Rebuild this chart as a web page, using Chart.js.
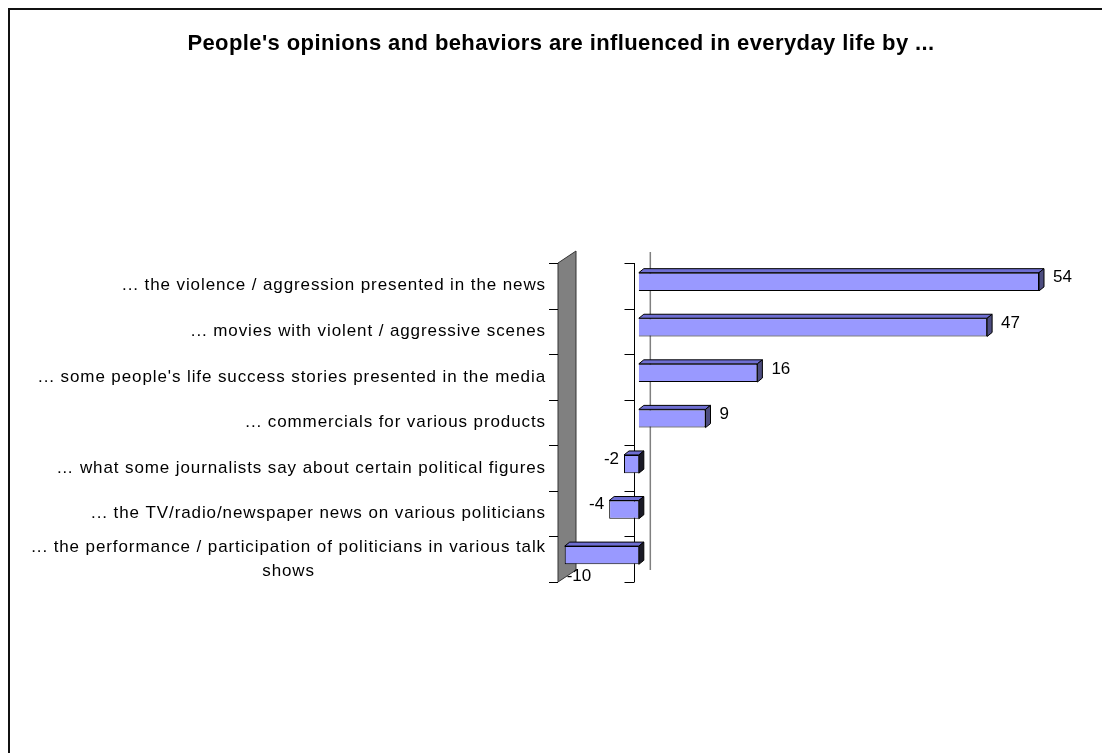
<!DOCTYPE html>
<html><head><meta charset="utf-8">
<script src="https://cdn.jsdelivr.net/npm/chart.js@4.4.0/dist/chart.umd.min.js"></script>
<style>html,body{margin:0;padding:0;background:#fff;overflow:hidden} #wrap{width:1102px;height:753px;position:relative}</style>
</head><body><div id="wrap"><canvas id="c" width="1102" height="753"></canvas></div>
<script>
const TITLE = "People's opinions and behaviors are influenced in everyday life by ...";
const categories = [
  ["... the violence / aggression presented in the news"],
  ["... movies with violent / aggressive scenes"],
  ["... some people's life success stories presented in the media"],
  ["... commercials for various products"],
  ["\u2026 what some journalists say about certain political figures"],
  ["... the TV/radio/newspaper news on various politicians"],
  ["... the performance / participation of politicians in various talk", "shows"]
];
const values = [54, 47, 16, 9, -2, -4, -10];
const axisMin = -10.5, axisMax = 54;

const FONT = "'Liberation Sans', Arial, sans-serif";
const D = {dx: 5, dy: -4};          // bar depth
const FRONT = {dx: -4, dy: 4};      // front axis plane offset from bar plane
const BACK = {dx: 11, dy: -8};      // back wall offset from bar plane

function spaced(ctx, px) { if ('letterSpacing' in ctx) ctx.letterSpacing = px + 'px'; }

const deco = {
  id: 'deco',
  beforeDatasetsDraw(chart) {
    const ctx = chart.ctx, xs = chart.scales.x, ca = chart.chartArea;
    ctx.save();
    // side wall at axis minimum
    const wx = xs.getPixelForValue(axisMin);
    const fT = ca.top + FRONT.dy, fB = ca.bottom + FRONT.dy;
    ctx.beginPath();
    ctx.moveTo(wx - 3, fT);
    ctx.lineTo(wx + 15, fT - 12);
    ctx.lineTo(wx + 15, fB - 12);
    ctx.lineTo(wx - 3, fB);
    ctx.closePath();
    ctx.fillStyle = '#808080';
    ctx.fill();
    ctx.strokeStyle = '#333';
    ctx.lineWidth = 1;
    ctx.stroke();
    // back zero line
    const x0 = xs.getPixelForValue(0);
    ctx.beginPath();
    ctx.strokeStyle = '#808080';
    ctx.lineWidth = 1.5;
    ctx.moveTo(x0 + BACK.dx + 0.5, ca.top + BACK.dy + 1);
    ctx.lineTo(x0 + BACK.dx + 0.5, ca.bottom + BACK.dy);
    ctx.stroke();
    // category axis at zero (front plane) and ticks
    const ax = Math.round(x0 + FRONT.dx) - 0.5;
    ctx.beginPath();
    ctx.strokeStyle = '#000';
    ctx.lineWidth = 1;
    ctx.moveTo(ax, fT);
    ctx.lineTo(ax, fB);
    const n = categories.length;
    for (let i = 0; i <= n; i++) {
      const y = Math.round(fT + (fB - fT) * i / n) + 0.5;
      ctx.moveTo(ax - 10, y); ctx.lineTo(ax, y);
      ctx.moveTo(wx - 12, y); ctx.lineTo(wx - 3, y);
    }
    ctx.stroke();
    ctx.restore();
  },
  afterDatasetsDraw(chart) {
    const ctx = chart.ctx, xs = chart.scales.x, ys = chart.scales.y;
    const meta = chart.getDatasetMeta(0);
    ctx.save();
    meta.data.forEach((el, i) => {
      const L = Math.min(el.x, el.base), R = Math.max(el.x, el.base);
      const T = el.y - el.height / 2, B = el.y + el.height / 2;
      ctx.lineWidth = 1;
      ctx.strokeStyle = '#000';
      // top face
      ctx.beginPath();
      ctx.moveTo(L, T); ctx.lineTo(L + D.dx, T + D.dy); ctx.lineTo(R + D.dx, T + D.dy); ctx.lineTo(R, T); ctx.closePath();
      ctx.fillStyle = '#6e6ed2'; ctx.fill(); ctx.stroke();
      // side face
      ctx.beginPath();
      ctx.moveTo(R, T); ctx.lineTo(R + D.dx, T + D.dy); ctx.lineTo(R + D.dx, B + D.dy); ctx.lineTo(R, B); ctx.closePath();
      ctx.fillStyle = values[i] >= 0 ? '#4d4d80' : '#1a1a26'; ctx.fill(); ctx.stroke();
      // value label
      ctx.fillStyle = '#000';
      ctx.font = '17px ' + FONT;
      spaced(ctx, 0);
      ctx.textBaseline = 'middle';
      const txt = String(values[i]);
      if (values[i] >= 0) {
        ctx.textAlign = 'left';
        ctx.fillText(txt, R + 14, el.y - 4);
      } else {
        const w = ctx.measureText(txt).width;
        const wx = xs.getPixelForValue(axisMin);
        if (L - 5 - w < wx) {
          ctx.textAlign = 'left';
          ctx.fillText(txt, L + 2, B + 12);
        } else {
          ctx.textAlign = 'right';
          ctx.fillText(txt, L - 5, el.y - 5);
        }
      }
    });
    // category labels
    ctx.font = '17px ' + FONT;
    spaced(ctx, 0.9);
    ctx.fillStyle = '#000';
    ctx.textBaseline = 'middle';
    categories.forEach((lines, i) => {
      const yc = ys.getPixelForValue(i) + FRONT.dy;
      const lh = 24;
      const y0 = yc - (lines.length - 1) * lh / 2;
      const w0 = ctx.measureText(lines[0]).width;
      const right = 546;
      lines.forEach((ln, k) => {
        if (k === 0) { ctx.textAlign = 'right'; ctx.fillText(ln, right, y0); }
        else { ctx.textAlign = 'center'; ctx.fillText(ln, right - w0 / 2, y0 + k * lh); }
      });
    });
    // title
    ctx.font = 'bold 22px ' + FONT;
    spaced(ctx, 0.4);
    ctx.textAlign = 'center';
    ctx.textBaseline = 'alphabetic';
    ctx.fillText(TITLE, 561, 50);
    spaced(ctx, 0);
    // outer frame
    ctx.beginPath();
    ctx.strokeStyle = '#111';
    ctx.lineWidth = 2;
    ctx.moveTo(9, 753); ctx.lineTo(9, 9); ctx.lineTo(1102, 9);
    ctx.stroke();
    ctx.restore();
  }
};

new Chart(document.getElementById('c'), {
  type: 'bar',
  data: {
    labels: categories,
    datasets: [{
      data: values,
      backgroundColor: '#9999ff',
      borderColor: '#000',
      borderWidth: 1,
      barPercentage: 0.4,
      categoryPercentage: 1
    }]
  },
  options: {
    indexAxis: 'y',
    responsive: false,
    animation: false,
    layout: {padding: {left: 561, right: 63, top: 259, bottom: 175}},
    plugins: {legend: {display: false}, tooltip: {enabled: false}, title: {display: false}},
    scales: {
      x: {display: false, min: axisMin, max: axisMax},
      y: {display: false}
    }
  },
  plugins: [deco]
});
</script></body></html>
